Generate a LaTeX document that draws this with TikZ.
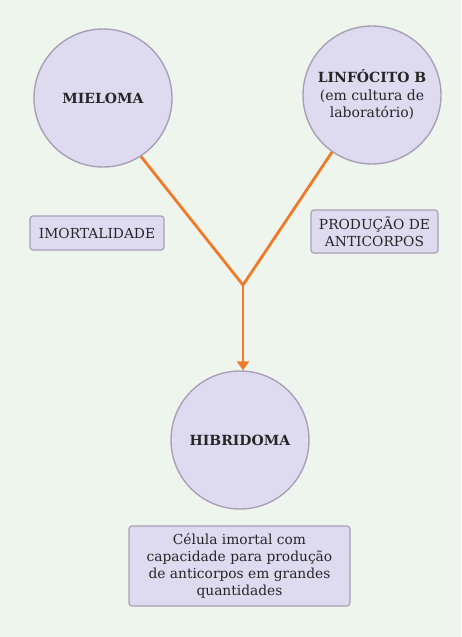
\documentclass[tikz,border=0pt]{standalone}
\usepackage{fontspec}
\setmainfont{DejaVu Serif}
\usetikzlibrary{arrows.meta}
\definecolor{bg}{HTML}{EDF5EC}
\definecolor{cellfill}{HTML}{DEDBF1}
\definecolor{celldraw}{HTML}{A99FB6}
\definecolor{orangeline}{HTML}{EE7A2A}
\definecolor{txt}{HTML}{262626}
\begin{document}
\begin{tikzpicture}[x=1pt,y=-1pt,
  cell/.style={circle, draw=celldraw, fill=cellfill, line width=1.4pt, minimum size=138pt, inner sep=0pt, align=center, text=txt, font=\fontsize{14}{17.5}\selectfont},
  tag/.style={rectangle, rounded corners=3pt, draw=celldraw, fill=cellfill, line width=1.2pt, align=center, text=txt, font=\fontsize{13.8}{17}\selectfont, inner xsep=3pt, inner ysep=3pt},
  link/.style={draw=orangeline, line width=2.8pt}]
\fill[bg] (0,0) rectangle (461,637);
\useasboundingbox (0,0) rectangle (461,637);
\node[cell] (mie) at (103,98) {\textbf{MIELOMA}};
\node[cell] (lin) at (372,95) {\textbf{LINFÓCITO B}\\(em cultura de\\laboratório)};
\node[cell] (hib) at (240,440) {\textbf{HIBRIDOMA}};
\node[tag, minimum width=134pt, minimum height=34pt] (imo) at (97,233) {IMORTALIDADE};
\node[tag, minimum width=127pt, minimum height=43pt] (pro) at (374.5,231.5) {PRODUÇÃO DE\\ANTICORPOS};
\node[tag, minimum width=221pt, minimum height=80pt] (res) at (239.5,566) {Célula imortal com\\capacidade para produção\\de anticorpos em grandes\\quantidades};
\coordinate (j) at (243,285);
\draw[link] (mie.-57) -- (j);
\draw[link] (lin.-125) -- (j);
\draw[link, -{Triangle[length=9pt,width=12pt]}] (j) -- (hib.north -| j);
\end{tikzpicture}
\end{document}
